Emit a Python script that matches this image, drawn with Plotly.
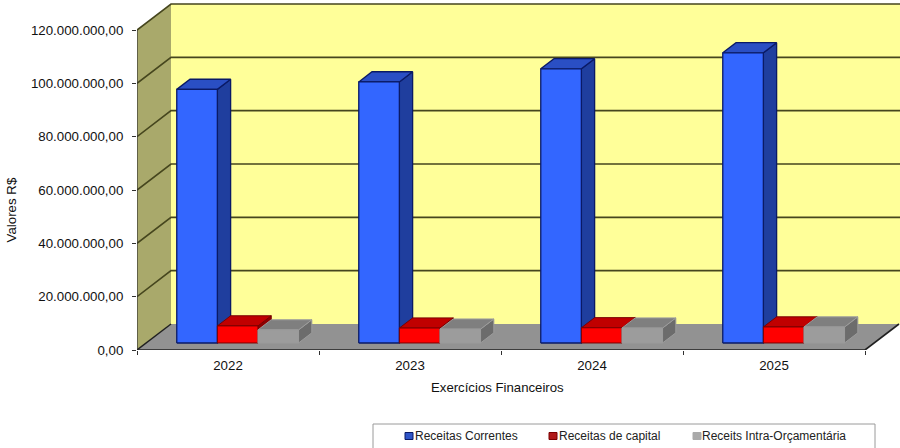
import plotly.graph_objects as go

categories = ["2022", "2023", "2024", "2025"]
series_names = ["Receitas Correntes", "Receitas de capital", "Receits Intra-Orçamentária"]
receitas_correntes = [95100000, 97900000, 102800000, 108800000]
receitas_capital = [6400000, 5600000, 5700000, 6000000]
receitas_intra = [4900000, 5200000, 5600000, 6000000]
y_ticks = [0, 20000000, 40000000, 60000000, 80000000, 100000000, 120000000]

# oblique projection used to fake the depth of the chart
DX = 34 / 182      # category units for full depth
DY = 9750000       # value units for full depth
Y_TOP = 120000000
X_END = len(categories)
X_MAX = 763 / 182
D0, D1 = 0.27, 0.66   # bar depth, as share of the floor depth
BAR_W = 40.6 / 182
BAR_START = 0.168

palette = [
    dict(front="#3366FF", top="#2A4FC4", side="#1F3E9E", edge="#0A1A66", w=1.3),
    dict(front="#FF0000", top="#C00000", side="#8E0000", edge="#7A0000", w=1),
    dict(front="#9C9C9C", top="#7F7F7F", side="#6C6C6C", edge="#9C9C9C", w=1),
]
legend_marker = ["#2F55C8", "#B01818", "#AAAAAA"]
legend_edge = ["#0A1A66", "#7A0000", "#AAAAAA"]

fig = go.Figure()


def poly(xs, ys, fill, line=None, width=1):
    fig.add_trace(go.Scatter(
        x=xs, y=ys, mode="lines", fill="toself", fillcolor=fill,
        line=dict(color=line or fill, width=width),
        hoverinfo="skip", showlegend=False))


def seg(xs, ys, color, width):
    fig.add_trace(go.Scatter(
        x=xs, y=ys, mode="lines", line=dict(color=color, width=width),
        hoverinfo="skip", showlegend=False))


WALL_EDGE = "#46461E"
# walls and floor
poly([DX, X_MAX, X_MAX, DX, DX], [DY, DY, Y_TOP + DY, Y_TOP + DY, DY], "#FFFF99", "#FFFF99", 0)
poly([0, DX, DX, 0, 0], [0, DY, Y_TOP + DY, Y_TOP, 0], "#A9A96B", "#A9A96B", 0)
poly([0, X_END, X_END + DX, X_MAX, DX, 0], [0, 0, DY, DY, DY, 0], "#929292", "#929292", 0)

# gridlines across both walls
for v in y_ticks[1:]:
    seg([0, DX, X_MAX], [v, v + DY, v + DY], WALL_EDGE, 1.6)
seg([0, 0], [0, Y_TOP], "#303030", 1.2)
seg([0, DX], [0, DY], "#202020", 1.4)
seg([0, X_END], [0, 0], "#202020", 1.6)
seg([X_END, X_END + DX], [0, DY], "#202020", 1.6)

# bars
for c in range(len(categories)):
    for s, vals in enumerate([receitas_correntes, receitas_capital, receitas_intra]):
        col = palette[s]
        x0 = c + BAR_START + s * BAR_W + D0 * DX
        x1 = x0 + BAR_W
        y0 = D0 * DY
        y1 = y0 + vals[c]
        ddx = (D1 - D0) * DX
        ddy = (D1 - D0) * DY
        poly([x1, x1 + ddx, x1 + ddx, x1, x1], [y0, y0 + ddy, y1 + ddy, y1, y0], col["side"], col["edge"], col["w"])
        poly([x0, x1, x1 + ddx, x0 + ddx, x0], [y1, y1, y1 + ddy, y1 + ddy, y1], col["top"], col["edge"], col["w"])
        poly([x0, x1, x1, x0, x0], [y0, y0, y1, y1, y0], col["front"], col["edge"], col["w"])


def px_x(p):
    return (p - 137) / 763


def px_y(p):
    return (350 - p) / 347


shapes = [
    dict(type="rect", xref="paper", yref="paper", x0=px_x(373), x1=px_x(875),
         y0=px_y(452), y1=px_y(424), line=dict(color="#9A9A9A", width=1),
         fillcolor="white", layer="below"),
]
annotations = [
    dict(text="Valores R$", xref="paper", yref="paper", x=px_x(11), y=px_y(210.5),
         textangle=-90, showarrow=False, xanchor="center", yanchor="middle", font=dict(size=13.3)),
    dict(text="Exercícios Financeiros", xref="paper", yref="paper", x=px_x(497.5),
         y=px_y(387), showarrow=False, xanchor="center", yanchor="middle", font=dict(size=13.2)),
]
legend_x = [405, 549, 693]
legend_text_x = [415, 559, 702]
for s, name in enumerate(series_names):
    shapes.append(dict(type="rect", xref="paper", yref="paper",
                       x0=px_x(legend_x[s]), x1=px_x(legend_x[s] + 8),
                       y0=px_y(439.5), y1=px_y(432.5),
                       fillcolor=legend_marker[s], line=dict(color=legend_edge[s], width=1)))
    annotations.append(dict(text=name, xref="paper", yref="paper", x=px_x(legend_text_x[s]), y=px_y(436),
                            showarrow=False, xanchor="left", yanchor="middle",
                            borderpad=0, borderwidth=0, font=dict(size=12, color="#222222")))

fig.update_layout(
    width=900, height=448,
    margin=dict(l=137, r=0, t=3, b=98, autoexpand=False),
    paper_bgcolor="white", plot_bgcolor="white",
    separators=",.",
    showlegend=False,
    font=dict(family="Liberation Sans, Arial, sans-serif", size=13.3, color="#111111"),
    xaxis=dict(
        range=[0, X_MAX], showgrid=False, zeroline=False, showline=False,
        tickmode="array", tickvals=[i + 0.5 for i in range(len(categories))],
        ticktext=categories, ticks="", ticklabelstandoff=6,
        minor=dict(tickmode="array", tickvals=list(range(len(categories) + 1)),
                   ticks="outside", ticklen=4, tickcolor="#303030", showgrid=False),
    ),
    yaxis=dict(
        range=[0, Y_TOP + DY + 375000], showgrid=False, zeroline=False, showline=False,
        tickmode="array", tickvals=y_ticks, tickformat=",.2f",
        ticks="outside", ticklen=4, tickcolor="#303030", ticklabelstandoff=6,
    ),
    annotations=annotations,
    shapes=shapes,
)

fig.write_html("out.html", config={"displayModeBar": False},
               post_script="document.body.style.margin='0';document.documentElement.style.overflow='hidden';")
